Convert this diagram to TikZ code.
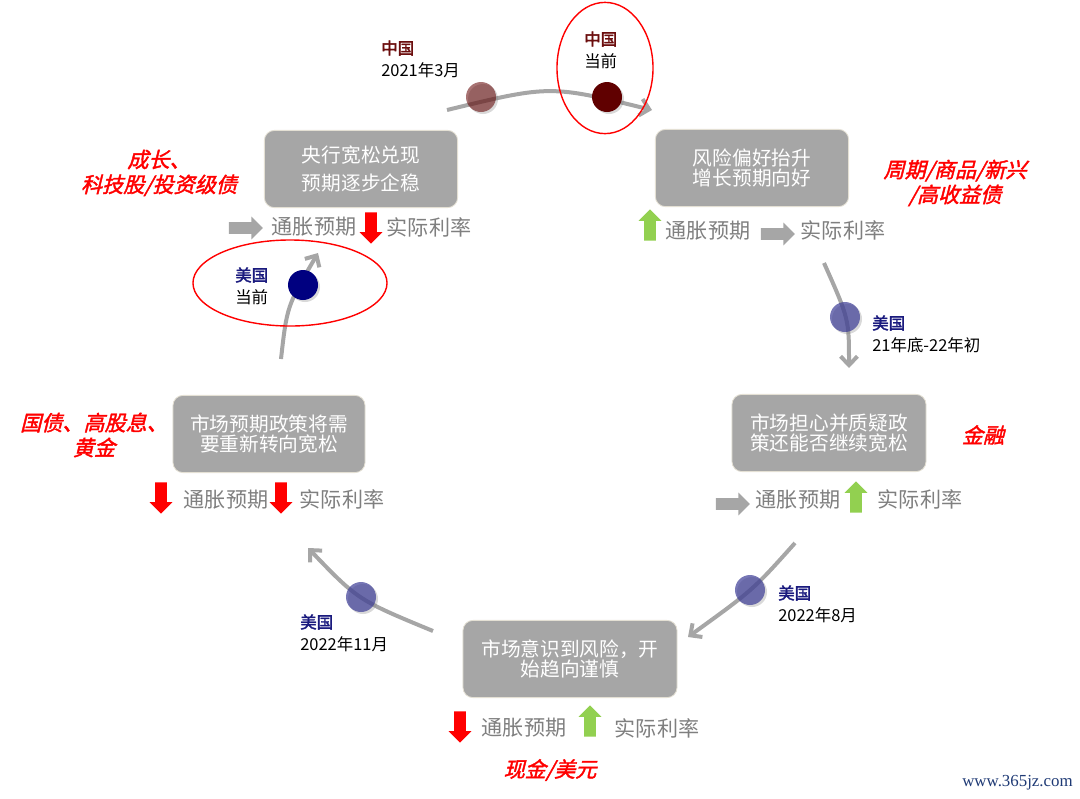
\documentclass[tikz,border=0pt]{standalone}
\usepackage{fontspec}
\setmainfont{Noto Sans CJK SC}
\newfontfamily\negrita[FakeBold=2]{Noto Sans CJK SC}
\newfontfamily\cursiva[FakeSlant=0.25,FakeBold=1.8]{Noto Sans CJK SC}
\newfontfamily\marca{Liberation Serif}
\usepackage{xcolor}
\usepackage{tikz}
\usetikzlibrary{shapes.geometric, shapes.arrows, arrows.meta, shadows, positioning}
\definecolor{cajagris}{HTML}{A6A6A6}
\definecolor{cajaborde}{HTML}{E4E0D4}
\definecolor{textogris}{HTML}{7F7F7F}
\definecolor{curvagris}{HTML}{A6A6A6}
\definecolor{flechagris}{HTML}{A6A6A6}
\definecolor{verde}{HTML}{92D050}
\definecolor{chinaoscuro}{HTML}{600000}
\definecolor{chinarojo}{HTML}{6B0D0D}
\definecolor{usaoscuro}{HTML}{000080}
\definecolor{usaclaro}{HTML}{3C3C96}
\definecolor{usaazul}{HTML}{1A1A7E}
\definecolor{marcaazul}{HTML}{1F3A75}

\begin{document}
\begin{tikzpicture}[x=0.025cm, y=-0.025cm,
    caja/.style={rounded corners=0.25cm, fill=cajagris, draw=cajaborde, line width=0.6pt, text=white, align=center, minimum width=4.83cm, minimum height=1.93cm, font=\fontsize{14}{14.5}\selectfont},
    indicador/.style={text=textogris, inner sep=0pt, font=\fontsize{15}{18}\selectfont},
    activo/.style={text=red, align=center, inner sep=0pt, font=\cursiva\fontsize{15}{17.7}\selectfont},
    etiqueta/.style={anchor=west, align=left, inner sep=0pt, font=\fontsize{11.7}{15.6}\selectfont},
    curva/.style={draw=curvagris, line width=0.1cm, -{Straight Barb[length=0.22cm,width=0.42cm]}},
    punto/.style={circle, inner sep=0pt, minimum size=0.75cm, drop shadow={shadow xshift=0.05cm, shadow yshift=-0.05cm, opacity=0.3}},
    elipse/.style={ellipse, draw=red, line width=1pt, inner sep=0pt},
    derecha/.style={single arrow, fill=flechagris, minimum height=0.85cm, single arrow head extend=0.14cm, inner sep=0.14cm},
    baja/.style={single arrow, fill=red, shape border rotate=270, minimum height=0.78cm, single arrow head extend=0.14cm, inner sep=0.14cm},
    sube/.style={baja, fill=verde, shape border rotate=90}]
        \useasboundingbox (0,0) rectangle (1080,798);
        % Cajas de las cinco fases
        \node[caja, font=\fontsize{14}{20}\selectfont] (bancocentral) at (361,169) {央行宽松兑现\\预期逐步企稳};
        \node[caja] (apetito) at (752,168) {风险偏好抬升\\增长预期向好};
        \node[caja, minimum width=4.85cm] (duda) at (829,433) {市场担心并质疑政\\策还能否继续宽松};
        \node[caja, minimum width=5.35cm] (cautela) at (570,659) {市场意识到风险，开\\始趋向谨慎};
        \node[caja, minimum width=4.8cm] (giro) at (269,434) {市场预期政策将需\\要重新转向宽松};
        % Indicadores debajo de cada caja
        \node[derecha] (fa1) at (243,228) {};
        \node[indicador] (inf1) at (314,227) {通胀预期};
        \node[baja] (fb1) at (371,225) {};
        \node[indicador] (tasa1) at (429,227) {实际利率};
        \node[sube] (fa2) at (650,228) {};
        \node[indicador] (inf2) at (708,231) {通胀预期};
        \node[derecha] (fb2) at (775,234) {};
        \node[indicador] (tasa2) at (843,230) {实际利率};
        \node[derecha] (fa3) at (730,504) {};
        \node[indicador] (inf3) at (798,500) {通胀预期};
        \node[sube] (fb3) at (856,500) {};
        \node[indicador] (tasa3) at (920,499) {实际利率};
        \node[baja] (fa4) at (460,724) {};
        \node[indicador] (inf4) at (524,728) {通胀预期};
        \node[sube] (fb4) at (590,724) {};
        \node[indicador] (tasa4) at (657,728) {实际利率};
        \node[baja] (fa5) at (161,495) {};
        \node[indicador] (inf5) at (226,500) {通胀预期};
        \node[baja] (fb5) at (281,495) {};
        \node[indicador] (tasa5) at (342,499) {实际利率};
        % Activos en rojo
        \node[activo] (crecimiento) at (159,173) {成长、\\科技股/投资级债};
        \node[activo] (ciclico) at (955,183) {周期/商品/新兴\\/高收益债};
        \node[activo] (financiero) at (983,435) {金融};
        \node[activo] (bonos) at (94,435) {国债、高股息、\\黄金};
        \node[activo] (efectivo) at (550,770) {现金/美元};
        % Flechas curvas del ciclo
        \coordinate (ci1) at (447,110); \coordinate (cf1) at (652,110);
        \coordinate (ci2) at (824,263); \coordinate (cf2) at (849,368);
        \coordinate (ci3) at (795,543); \coordinate (cf3) at (688,637);
        \coordinate (ci4) at (433,631); \coordinate (cf4) at (308,548);
        \coordinate (ci5) at (281,359); \coordinate (cf5) at (318,253);
        \draw[curva] (ci1) .. controls (550,85) .. (cf1);
        \draw[curva] (ci2) .. controls (849,319) .. (cf2);
        \draw[curva] (ci3) .. controls (753,590) .. (cf3);
        \draw[curva] (ci4) .. controls (358,600) .. (cf4);
        \draw[curva] (ci5) .. controls (287,306) .. (cf5);
        % Puntos de China y EE.UU.
        \node[punto, fill=chinaoscuro, fill opacity=0.55] (china2021) at (481,97) {};
        \node[punto, fill=chinaoscuro] (chinaactual) at (607,97) {};
        \node[punto, fill=usaoscuro] (usaactual) at (303,285) {};
        \foreach \nombre/\px/\py in {usa2122/845/317, usa2208/750/590, usa2211/361/597} {
            \node[punto, fill=usaclaro, fill opacity=0.7] (\nombre) at (\px,\py) {};
        }
        % Etiquetas de los puntos
        \node[etiqueta] (lchina2021) at (381,59) {{\negrita\color{chinarojo}中国}\\2021年3月};
        \node[etiqueta] (lchinaactual) at (584,50) {{\negrita\color{chinarojo}中国}\\当前};
        \node[etiqueta] (lusaactual) at (235,286) {{\negrita\color{usaazul}美国}\\当前};
        \node[etiqueta] (lusa2122) at (872,334) {{\negrita\color{usaazul}美国}\\21年底-22年初};
        \node[etiqueta] (lusa2208) at (778,604) {{\negrita\color{usaazul}美国}\\2022年8月};
        \node[etiqueta] (lusa2211) at (300,633) {{\negrita\color{usaazul}美国}\\2022年11月};
        % Elipses de la posicion actual
        \node[elipse, minimum width=2.4cm, minimum height=3.28cm] (elipsechina) at (605,68) {};
        \node[elipse, minimum width=4.85cm, minimum height=2.15cm] (elipseusa) at (290,283) {};
        % Marca de agua
        \node[font=\marca\fontsize{12}{14}\selectfont, text=marcaazul, anchor=east, inner sep=0pt] (web) at (1073,783) {www.365jz.com};
    \end{tikzpicture}
\end{document}
